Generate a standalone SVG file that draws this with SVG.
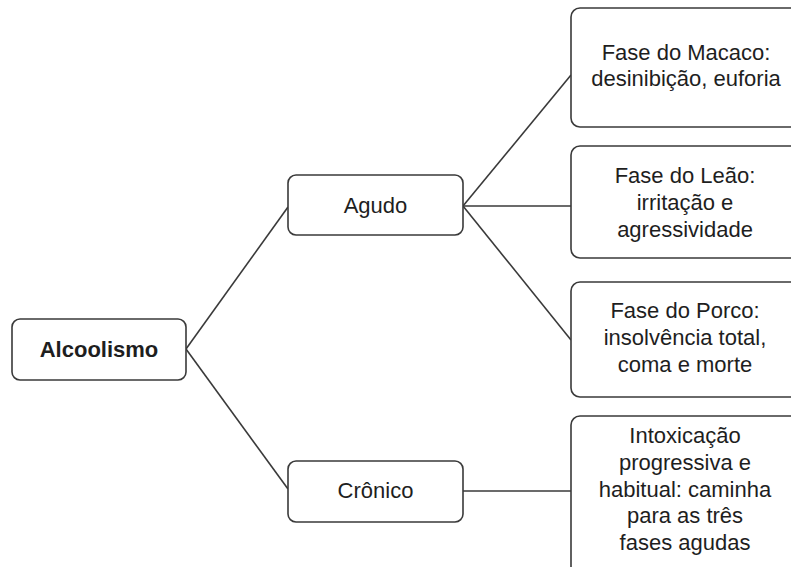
<svg xmlns="http://www.w3.org/2000/svg" width="791" height="567" viewBox="0 0 791 567">
<style>
.box{fill:#fff;stroke:#3a3a3a;stroke-width:1.6}
.t{font-family:"Liberation Sans",Arial,sans-serif;font-size:22px;fill:#1e1e1e;text-anchor:middle}
.b{font-weight:bold}
.c{fill:none;stroke:#3a3a3a;stroke-width:1.6}
</style>
<rect width="791" height="567" fill="#fff"/>
<g id="connectors">
<line class="c" x1="186" y1="349" x2="288" y2="207"/>
<line class="c" x1="186" y1="349" x2="288" y2="489"/>
<line class="c" x1="463" y1="206" x2="571" y2="75"/>
<line class="c" x1="463" y1="206" x2="571" y2="206"/>
<line class="c" x1="463" y1="206" x2="571" y2="340"/>
<line class="c" x1="463" y1="491" x2="571" y2="491"/>
</g>
<g id="alcoolismo">
<rect class="box" x="12" y="319" width="174" height="61" rx="8"/>
<text class="t b" x="99" y="357">Alcoolismo</text>
</g>
<g id="agudo">
<rect class="box" x="288" y="175" width="175" height="60" rx="8"/>
<text class="t" x="375.5" y="213">Agudo</text>
</g>
<g id="cronico">
<rect class="box" x="288" y="461" width="175" height="61" rx="8"/>
<text class="t" x="375.5" y="498">Crônico</text>
</g>
<g id="macaco">
<rect class="box" x="571" y="8" width="240" height="119" rx="9"/>
<text class="t" x="686" y="60">Fase do Macaco:</text>
<text class="t" x="686" y="86">desinibição, euforia</text>
</g>
<g id="leao">
<rect class="box" x="571" y="146" width="240" height="112" rx="9"/>
<text class="t" x="685" y="183">Fase do Leão:</text>
<text class="t" x="685" y="210">irritação e</text>
<text class="t" x="685" y="237">agressividade</text>
</g>
<g id="porco">
<rect class="box" x="571" y="282" width="240" height="115" rx="9"/>
<text class="t" x="685" y="318">Fase do Porco:</text>
<text class="t" x="685" y="345">insolvência total,</text>
<text class="t" x="685" y="372">coma e morte</text>
</g>
<g id="intoxicacao">
<rect class="box" x="571" y="416" width="240" height="160" rx="9"/>
<text class="t" x="685" y="443">Intoxicação</text>
<text class="t" x="685" y="470">progressiva e</text>
<text class="t" x="685" y="497">habitual: caminha</text>
<text class="t" x="685" y="523">para as três</text>
<text class="t" x="685" y="550">fases agudas</text>
</g>
</svg>
